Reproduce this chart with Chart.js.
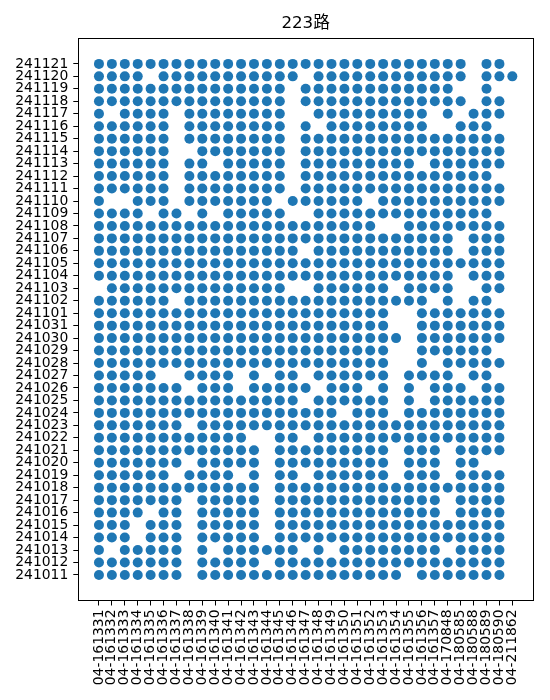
<!DOCTYPE html>
<html>
<head>
<meta charset="utf-8">
<script src="https://cdn.jsdelivr.net/npm/chart.js@4/dist/chart.umd.min.js"></script>
<style>
  html, body { margin: 0; padding: 0; background: #fff; }
  #wrap { width: 550px; height: 700px; }
</style>
</head>
<body>
<div id="wrap"><canvas id="c" width="550" height="700"></canvas></div>
<script>
// ---- data ----
const chartTitle = '223路';

const vehicles = [
  '04-161331','04-161332','04-161333','04-161334','04-161335','04-161336','04-161337',
  '04-161338','04-161339','04-161340','04-161341','04-161342','04-161343','04-161344',
  '04-161345','04-161346','04-161347','04-161348','04-161349','04-161350','04-161351',
  '04-161352','04-161353','04-161354','04-161355','04-161356','04-161357','04-170848',
  '04-180585','04-180588','04-180589','04-180590','04-211862'
];

// dates, top row first
const dates = [
  '241121','241120','241119','241118','241117','241116','241115','241114','241113',
  '241112','241111','241110','241109','241108','241107','241106','241105','241104',
  '241103','241102','241101','241031','241030','241029','241028','241027','241026',
  '241025','241024','241023','241022','241021','241020','241019','241018','241017',
  '241016','241015','241014','241013','241012','241011'
];

// one string per date (same order): 1 = dot present for that vehicle, 0 = none
const presence = [
  '1111111111 1111111111 1111111110 110',
  '1111011111 1111110111 1111111110 111',
  '1111111111 1111101111 1111111100 100',
  '1111111111 1111101111 1111111110 110',
  '1011110111 1111100111 1111110101 110',
  '1111110111 1111101011 1111110011 100',
  '1111110111 1111101111 1111111111 110',
  '1111110011 1111101111 1111111111 110',
  '1111110110 1111101111 1111101111 110',
  '1111110111 1111101111 1111111111 100',
  '1111110111 1111101111 1111111111 110',
  '1001110111 1111011111 1011111111 110',
  '1111011010 1111100111 1111111111 100',
  '1111111111 1111111111 1100111111 110',
  '1111111111 1111111111 1111111101 110',
  '1111111111 1111110111 1111111101 110',
  '1111111111 1111111111 1111111111 110',
  '1111111111 1111111111 1111111101 110',
  '0111111111 1111100111 1110111100 110',
  '1111110111 1111111111 1111110101 100',
  '1111111111 1111111111 1110011111 110',
  '1111111111 1111111111 1110011111 110',
  '1111111111 1111111111 1111011111 110',
  '1111111111 1111111111 1110011111 100',
  '1111111111 1111111111 1110010111 110',
  '1111100111 1010110111 1110111101 100',
  '1111111011 1011111011 1010101110 110',
  '1111111111 1111110111 1110101111 110',
  '1111111111 1111111110 1110111111 110',
  '1111111011 1111111111 1111111111 110',
  '1111111111 1100110111 1111111111 110',
  '1111111111 1110111111 1110111011 110',
  '1111111011 1110111111 1110111011 000',
  '1111110111 1010110111 1110111011 110',
  '1111111111 1110111111 1111111111 110',
  '1111111011 1110111111 1111111011 110',
  '1111011011 1110111111 1111111011 110',
  '1110111011 1110111111 1111111111 110',
  '1110111011 1110111111 1111111111 110',
  '1011111010 1111110101 1111111011 110',
  '1111111011 1110111111 1111111111 110',
  '1111111011 1111111111 1111011111 110'
];

// ---- build points (category index coordinates) ----
const nRows = dates.length;
const yLabels = dates.slice().reverse();   // bottom-to-top
const points = [];
presence.forEach((row, i) => {
  const cells = row.replace(/\s+/g, '');
  for (let j = 0; j < cells.length; j++) {
    if (cells[j] === '1') points.push({ x: j, y: nRows - 1 - i });
  }
});

const tickFont = { family: "'DejaVu Sans', sans-serif", size: 13.9 };
const xIdx = vehicles.map((_, k) => k);
const yIdx = yLabels.map((_, k) => k);

const framePlugin = {
  id: 'frame',
  afterDraw(chart) {
    const { ctx, chartArea: a } = chart;
    ctx.save();
    ctx.strokeStyle = '#000';
    ctx.lineWidth = 1;
    ctx.strokeRect(Math.round(a.left) + 0.5, Math.round(a.top) + 0.5,
                   Math.round(a.right - a.left), Math.round(a.bottom - a.top));
    ctx.restore();
  }
};

Chart.defaults.color = '#000';

new Chart(document.getElementById('c'), {
  type: 'scatter',
  data: {
    datasets: [{
      data: points,
      backgroundColor: '#1f77b4',
      borderWidth: 0,
      pointRadius: 5,
      pointHoverRadius: 5
    }]
  },
  options: {
    responsive: false,
    animation: false,
    events: [],
    layout: { padding: { left: 0, right: 17, top: 0, bottom: 0 } },
    plugins: {
      legend: { display: false },
      tooltip: { enabled: false },
      title: {
        display: true,
        text: chartTitle,
        fullSize: false,
        color: '#000',
        font: { family: "'DejaVu Sans', 'Noto Sans CJK SC', sans-serif", size: 16.7, weight: 'normal' },
        padding: { top: 14, bottom: 4.3 }
      }
    },
    scales: {
      x: {
        type: 'linear',
        min: -1.6,
        max: 33.6,
        bounds: 'data',
        border: { display: false },
        grid: { drawOnChartArea: false, drawTicks: true, tickLength: 5, color: '#000' },
        ticks: {
          autoSkip: false,
          minRotation: 90,
          maxRotation: 90,
          padding: 4,
          font: tickFont,
          callback: (v) => vehicles[v]
        },
        afterBuildTicks: (scale) => { scale.ticks = xIdx.map(v => ({ value: v })); },
        afterFit: (scale) => { scale.height = 99.5; }
      },
      y: {
        type: 'linear',
        min: -2.05,
        max: 43.05,
        bounds: 'data',
        border: { display: false },
        grid: { drawOnChartArea: false, drawTicks: true, tickLength: 5, color: '#000' },
        ticks: {
          autoSkip: false,
          padding: 5,
          font: tickFont,
          callback: (v) => yLabels[v]
        },
        afterBuildTicks: (scale) => { scale.ticks = yIdx.map(v => ({ value: v })); },
        afterFit: (scale) => { scale.width = 78.3; }
      }
    }
  },
  plugins: [framePlugin]
});
</script>
</body>
</html>
